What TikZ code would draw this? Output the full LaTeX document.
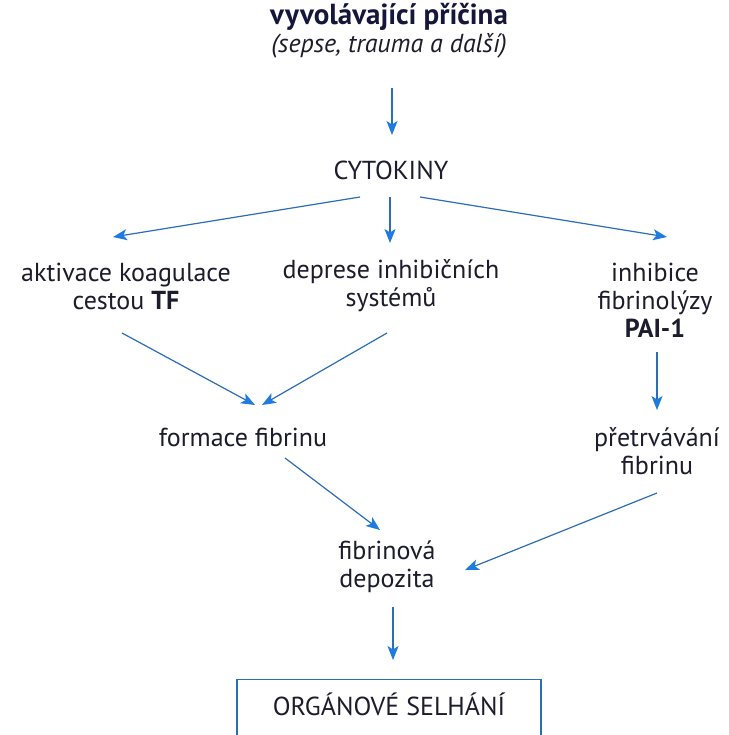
\documentclass[tikz,border=0pt]{standalone}
\usepackage{fontspec}
\setmainfont{PT Sans}
\usetikzlibrary{arrows.meta}
\definecolor{txt}{HTML}{1C1C2C}
\definecolor{navy}{HTML}{14163A}
\definecolor{arrline}{HTML}{2C6DB5}
\definecolor{arrhead}{HTML}{1E7BE0}
\begin{document}
\begin{tikzpicture}[x=1pt,y=-1pt,
  lbl/.style={align=center,text=txt,inner sep=0pt,font=\fontsize{26}{28}\selectfont},
  arr/.style={draw=arrline,line width=1.2pt,-{Stealth[length=14pt,width=11pt,inset=3.5pt,color=arrhead]}},
  orgbox/.style={draw=arrline,line width=1.3pt,text=txt,inner sep=0pt,minimum width=304pt,
    text height=36pt,text depth=28pt,font=\fontsize{26}{28}\selectfont}]
\useasboundingbox (0,0) rectangle (728,735);
\fill[white] (0,0) rectangle (728,735);
\node[lbl] (cause) at (389,31) {\textcolor{navy}{\fontsize{29}{28}\selectfont\bfseries vyvolávající příčina}\\\textit{(sepse, trauma a další)}};
\node[lbl] (cyto) at (391,170) {CYTOKINY};
\node[lbl] (akt) at (126,286) {aktivace koagulace\\cestou \textbf{TF}};
\node[lbl] (dep) at (391,286) {deprese inhibičních\\systémů};
\node[lbl] (inh) at (655,300) {inhibice\\fibrinolýzy\\\textbf{PAI-1}};
\node[lbl] (form) at (243,437) {formace fibrinu};
\node[lbl] (pret) at (657,451) {přetrvávání\\fibrinu};
\node[lbl] (fdep) at (387,567) {fibrinová\\depozita};
\node[orgbox,anchor=north] (org) at (389,679) {ORGÁNOVÉ SELHÁNÍ};
\draw[arr] ([shift={(3,57)}]cause.center) -- ([shift={(1,-35)}]cyto.center);
\draw[arr] ([shift={(-31,27)}]cyto.center) -- ([shift={(-13,-49)}]akt.center);
\draw[arr] ([shift={(-1,27)}]cyto.center) -- ([shift={(-1,-43)}]dep.center);
\draw[arr] ([shift={(29,27)}]cyto.center) -- ([shift={(12,-63)}]inh.center);
\draw[arr] ([shift={(-4,47)}]akt.center) -- ([shift={(12,-32)}]form.center);
\draw[arr] ([shift={(-4,47)}]dep.center) -- ([shift={(19,-32)}]form.center);
\draw[arr] ([shift={(2,52)}]inh.center) -- ([shift={(0,-41)}]pret.center);
\draw[arr] ([shift={(42,21)}]form.center) -- ([shift={(-7,-37)}]fdep.center);
\draw[arr] ([shift={(0,42)}]pret.center) -- ([shift={(78,3)}]fdep.center);
\draw[arr] ([shift={(6,40)}]fdep.center) -- ([shift={(4,-19)}]org.north);
\end{tikzpicture}
\end{document}
